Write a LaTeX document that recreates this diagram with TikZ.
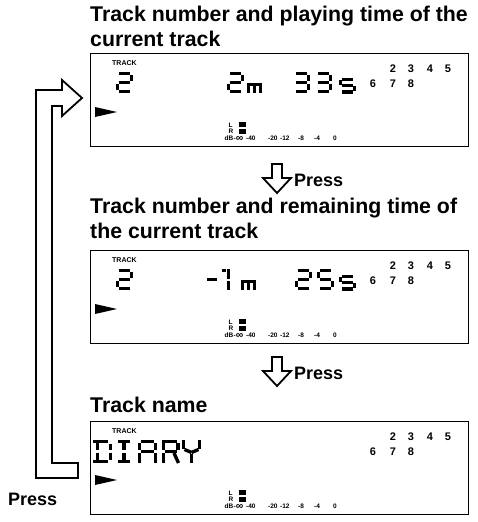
\documentclass[tikz,border=0pt]{standalone}
\usepackage{fontspec}
\setmainfont{Liberation Sans}
\tikzset{
 head/.style={anchor=base west, inner sep=0pt, font=\bfseries\fontsize{21.3}{24}\selectfont},
 presslbl/.style={anchor=base west, inner sep=0pt, font=\bfseries\fontsize{18}{20}\selectfont},
 lcdbox/.style={draw, line width=1.3pt, minimum width=378pt, minimum height=93pt, anchor=north west, inner sep=0pt},
 seg/.style={line width=3.4pt, line cap=butt},
 thinseg/.style={line width=2.8pt, line cap=butt},
 tinylbl/.style={anchor=base west, inner sep=0pt, font=\bfseries\fontsize{6.5}{7}\selectfont},
 trk/.style={anchor=base west, inner sep=0pt, font=\bfseries\fontsize{7}{8}\selectfont},
 num/.style={anchor=base, inner sep=0pt, font=\bfseries\fontsize{11}{12}\selectfont},
 blockarrow/.style={draw, line width=1.8pt, fill=white, line join=miter},
}
% seven-segment digit: origin = top-left of glyph (17 x 21)
\newcommand\dsega{\draw[seg] (2.8,1.7) -- (14.2,1.7);}
\newcommand\dsegb{\draw[seg] (15.3,2.8) -- (15.3,9.3);}
\newcommand\dsegc{\draw[seg] (15.3,11.7) -- (15.3,18.2);}
\newcommand\dsegd{\draw[seg] (2.8,19.3) -- (14.2,19.3);}
\newcommand\dsege{\draw[seg] (1.7,11.7) -- (1.7,18.2);}
\newcommand\dsegf{\draw[seg] (1.7,2.8) -- (1.7,9.3);}
\newcommand\dsegg{\draw[seg] (2.8,10.5) -- (14.2,10.5);}
\newcommand\lcddig[3]{\begin{scope}[shift={(#1,#2)}]\foreach \s in {#3}{\csname dseg\s\endcsname}\end{scope}}
\newcommand\lcds[2]{\begin{scope}[shift={(#1,#2)},yscale=0.72]\foreach \s in {a,f,g,c,d}{\csname dseg\s\endcsname}\end{scope}}
\newcommand\lcdm[2]{\begin{scope}[shift={(#1,#2)}]
 \draw[thinseg] (0.3,1.4) -- (14.7,1.4);
 \draw[thinseg] (1.4,3) -- (1.4,10);
 \draw[thinseg] (7.5,3) -- (7.5,10);
 \draw[thinseg] (13.6,3) -- (13.6,10);
\end{scope}}
\newcommand\lcdcommon[1]{%
 \node[trk] (#1trk) at (22,12) {TRACK};
 \foreach \n/\x in {2/303,3/321,4/340,5/358}{\node[num] (#1n\n) at (\x,19) {\n};}
 \foreach \n/\x in {6/283,7/303,8/321}{\node[num] (#1n\n) at (\x,34) {\n};}
 \fill (5,54) -- (27,59) -- (5,64) -- cycle;
 \node[tinylbl] (#1L) at (138.5,74) {L};
 \node[tinylbl] (#1R) at (138.5,80) {R};
 \node[tinylbl] (#1dB) at (134.5,87) {dB};
 \node[tinylbl] (#1inf) at (143.5,87) {-\raisebox{-1.3pt}{\fontsize{10.5}{10}\selectfont ∞}};
 \node[tinylbl] (#1m40) at (156,87) {-40};
 \node[tinylbl] (#1m20) at (178,87) {-20};
 \node[tinylbl] (#1m12) at (190,87) {-12};
 \node[tinylbl] (#1m8) at (208,87) {-8};
 \node[tinylbl] (#1m4) at (224,87) {-4};
 \node[tinylbl] (#1z) at (243,87) {0};
 \fill (149,69) rectangle (156,74);
 \fill (149,76) rectangle (156,81);
}
\begin{document}
\begin{tikzpicture}[x=1pt,y=-1pt]
\useasboundingbox (0,0) rectangle (477,522);
% headings
\node[head] (h1a) at (90,21) {Track number and playing time of the};
\node[head] (h1b) at (90,46) {current track};
\node[head] (h2a) at (90,213) {Track number and remaining time of};
\node[head] (h2b) at (90,238) {the current track};
\node[head] (h3) at (90,412) {Track name};
% boxes
\node[lcdbox] (box1) at (90,53) {};
\node[lcdbox] (box2) at (90,250) {};
\node[lcdbox] (box3) at (90,421) {};
% box 1 content
\begin{scope}[shift={(90,53)}]
 \lcdcommon{a}
 \lcddig{26}{19}{a,b,g,e,d}
 \lcddig{137}{19}{a,b,g,e,d}
 \lcdm{157}{30}
 \lcddig{203}{19}{a,b,g,c,d}
 \lcddig{225}{19}{a,b,g,c,d}
 \lcds{249}{25}
\end{scope}
% box 2 content
\begin{scope}[shift={(90,250)}]
 \lcdcommon{b}
 \lcddig{26}{19}{a,b,g,e,d}
 \draw[seg] (117,29.5) -- (127,29.5);
 \draw[seg] (131.5,20.7) -- (135.5,20.7);
 \draw[seg] (138.3,19) -- (138.3,28.8);
 \draw[seg] (138.3,31.2) -- (138.3,40);
 \lcdm{151}{30}
 \lcddig{205}{19}{a,b,g,e,d}
 \lcddig{227}{19}{a,f,g,c,d}
 \lcds{249}{25}
\end{scope}
% box 3 content
\begin{scope}[shift={(90,421)}]
 \lcdcommon{c}
 % D
 \begin{scope}[shift={(3,19)}]
  \draw[seg] (0,1.7) -- (15,1.7);
  \draw[seg] (0,21.3) -- (15,21.3);
  \draw[seg] (4.6,3) -- (4.6,10.3);
  \draw[seg] (4.6,12.7) -- (4.6,20);
  \draw[seg] (17.3,3.5) -- (17.3,10.3);
  \draw[seg] (17.3,12.7) -- (17.3,19.5);
 \end{scope}
 % I
 \begin{scope}[shift={(28,19)}]
  \draw[seg] (0,1.7) -- (12,1.7);
  \draw[seg] (0,21.3) -- (12,21.3);
  \draw[seg] (6,3) -- (6,10.3);
  \draw[seg] (6,12.7) -- (6,20);
 \end{scope}
 % A
 \begin{scope}[shift={(48,19)}]
  \draw[seg] (3,1.7) -- (16,1.7);
  \draw[seg] (1.7,3) -- (1.7,10.3);
  \draw[seg] (1.7,12.7) -- (1.7,23);
  \draw[seg] (17.3,3) -- (17.3,10.3);
  \draw[seg] (17.3,12.7) -- (17.3,23);
  \draw[seg] (3,11.5) -- (16,11.5);
 \end{scope}
 % R
 \begin{scope}[shift={(72,19)}]
  \draw[seg] (0,1.7) -- (14.5,1.7);
  \draw[seg] (1.7,3) -- (1.7,10.3);
  \draw[seg] (1.7,12.7) -- (1.7,23);
  \draw[seg] (16,3) -- (16,10);
  \draw[seg] (3,11.5) -- (14.5,11.5);
  \draw[seg] (12,13) -- (16.5,23);
 \end{scope}
 % Y
 \begin{scope}[shift={(92,19)}]
  \draw[seg] (1.7,0) -- (1.7,8.5);
  \draw[seg] (17.3,0) -- (17.3,8.5);
  \draw[seg] (2.5,9.5) -- (9.5,12.5);
  \draw[seg] (16.5,9.5) -- (9.5,12.5);
  \draw[seg] (9.5,13.5) -- (9.5,23);
 \end{scope}
\end{scope}
% down arrows
\draw[blockarrow] (272,164) -- (282,164) -- (282,178) -- (291,178) -- (277,193) -- (263,178) -- (272,178) -- cycle;
\node[presslbl] (p1) at (294,186) {Press};
\draw[blockarrow] (272,357) -- (282,357) -- (282,371) -- (291,371) -- (277,386) -- (263,371) -- (272,371) -- cycle;
\node[presslbl] (p2) at (294,379) {Press};
% loop arrow from track name back to first display
\draw[blockarrow] (78,463) -- (52,463) -- (52,106) -- (62,106) -- (62,116) -- (82,98) -- (62,80) -- (62,90) -- (36,90) -- (36,478) -- (78,478) -- cycle;
\node[presslbl] (p3) at (8,505) {Press};
\end{tikzpicture}
\end{document}
